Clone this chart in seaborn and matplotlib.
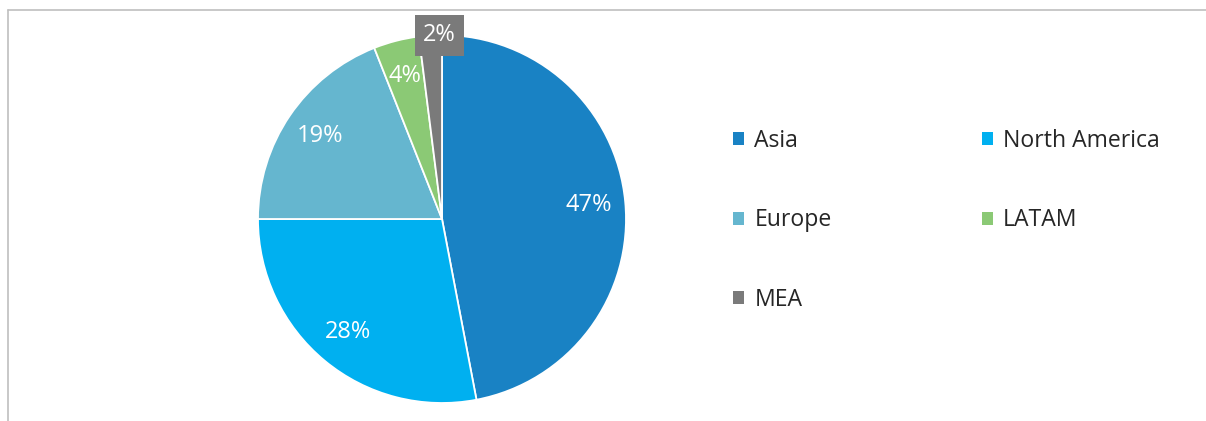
import matplotlib
matplotlib.use('Agg')
import matplotlib.pyplot as plt
import seaborn as sns
from matplotlib.patches import Patch
from matplotlib.lines import Line2D
import numpy as np

regions = ['Asia', 'North America', 'Europe', 'LATAM', 'MEA']
shares = [47, 28, 19, 4, 2]
colors = ['#1982C4', '#00B0F0', '#65B6CF', '#8BC975', '#7A7A7A']

sns.set_theme(style='white')
plt.rcParams['font.family'] = ['Open Sans', 'DejaVu Sans']

palette = sns.color_palette(colors)

fig = plt.figure(figsize=(12.06, 4.21), dpi=100)

# pie axes: centre ~(442, 219) px, radius ~184 px
ax = fig.add_axes([258 / 1206, 18 / 421, 368 / 1206, 368 / 421])
wedges, texts, pcts = ax.pie(
    shares,
    colors=palette,
    startangle=90,
    counterclock=False,
    autopct='%d%%',
    pctdistance=0.8,
    wedgeprops=dict(edgecolor='white', linewidth=1.3),
    textprops=dict(color='white', fontsize=17),
)
ax.set_xlim(-1, 1)
ax.set_ylim(-1, 1)
ax.set_aspect('equal')

# small slice label sits on the rim with a grey box
w = wedges[-1]
mid = np.deg2rad((w.theta1 + w.theta2) / 2)
pcts[-1].set_position((1.0 * np.cos(mid) + 0.05, 1.0 * np.sin(mid)))
pcts[-1].set_bbox(dict(facecolor=colors[-1], edgecolor='none', pad=6))
pcts[-1].set_clip_on(False)

# legend, two columns filled row-wise
order = [0, 2, 4, 1, 3]
handles = [Patch(facecolor=palette[i], edgecolor='none') for i in order]
labels = [regions[i] for i in order]
fig.legend(handles, labels, ncol=2, loc='upper left',
           bbox_to_anchor=(733 / 1206, 1 - 129 / 421),
           frameon=False, fontsize=16.6, handlelength=0.48, handleheight=0.48,
           handletextpad=0.45, columnspacing=6.5, labelspacing=2.4,
           borderpad=0, borderaxespad=0)

# outer frame lines (top and left only)
fig.add_artist(Line2D([8 / 1206, 1.0], [1 - 10 / 421] * 2, color='#BFBFBF', lw=1.2))
fig.add_artist(Line2D([8 / 1206] * 2, [0, 1 - 10 / 421], color='#BFBFBF', lw=1.2))

fig.savefig('out.png', dpi=100)
